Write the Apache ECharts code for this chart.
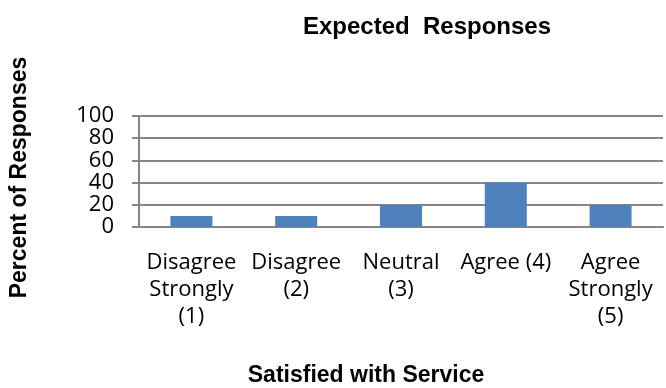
<!DOCTYPE html>
<html>
<head>
<meta charset="utf-8">
<script src="https://cdn.jsdelivr.net/npm/echarts@6/dist/echarts.min.js"></script>
<style>
    html, body { margin: 0; padding: 0; background: #fff; }
    #chart { width: 666px; height: 388px; }
</style>
</head>
<body>
<div id="chart"></div>
<script>
    // 数据
    var categories = ['Disagree\nStrongly\n(1)', 'Disagree\n(2)', 'Neutral\n(3)', 'Agree (4)', 'Agree\nStrongly\n(5)'];
    var percentValues = [10, 10, 20, 40, 20];
    var yTicks = [0, 20, 40, 60, 80, 100];

    var labelFont = '"Open Sans", "Noto Sans", sans-serif';
    var titleFont = '"Liberation Sans", Arial, sans-serif';

    var option = {
        animation: false,
        title: {
            text: 'Expected  Responses',
            left: 422,
            top: 10,
            textAlign: 'center',
            textStyle: { fontFamily: titleFont, fontWeight: 'bold', fontSize: 24, color: '#000' }
        },
        grid: { left: 133, right: 3, top: 116, bottom: 158 },
        xAxis: {
            type: 'category',
            data: categories,
            name: 'Satisfied with Service',
            nameLocation: 'middle',
            nameGap: 137,
            nameTextStyle: { fontFamily: titleFont, fontWeight: 'bold', fontSize: 23, color: '#000', padding: [0, 70, 0, 0] },
            axisLine: { lineStyle: { color: '#868686', width: 2 } },
            axisTick: { show: false },
            axisLabel: {
                interval: 0,
                margin: 22,
                fontFamily: labelFont,
                fontSize: 22,
                lineHeight: 27,
                color: '#000',
                align: 'center',
                verticalAlign: 'top'
            }
        },
        yAxis: {
            type: 'value',
            min: yTicks[0],
            max: yTicks[yTicks.length - 1],
            interval: 20,
            name: 'Percent of Responses',
            nameLocation: 'middle',
            nameRotate: 90,
            nameGap: 108,
            nameTextStyle: { fontFamily: titleFont, fontWeight: 'bold', fontSize: 23, color: '#000', padding: [0, 12, 0, 0] },
            axisLine: { show: true, lineStyle: { color: '#868686', width: 2 } },
            axisTick: { show: true, length: 7, lineStyle: { color: '#868686', width: 2 } },
            splitLine: { lineStyle: { color: '#868686', width: 2 } },
            axisLabel: {
                margin: 25,
                fontFamily: labelFont,
                fontSize: 22,
                color: '#000'
            }
        },
        series: [{
            type: 'bar',
            data: percentValues,
            barWidth: 42,
            itemStyle: { color: '#4F81BD' }
        }]
    };

    var myChart = echarts.init(document.getElementById('chart'));
    myChart.setOption(option, true);
</script>
</body>
</html>
